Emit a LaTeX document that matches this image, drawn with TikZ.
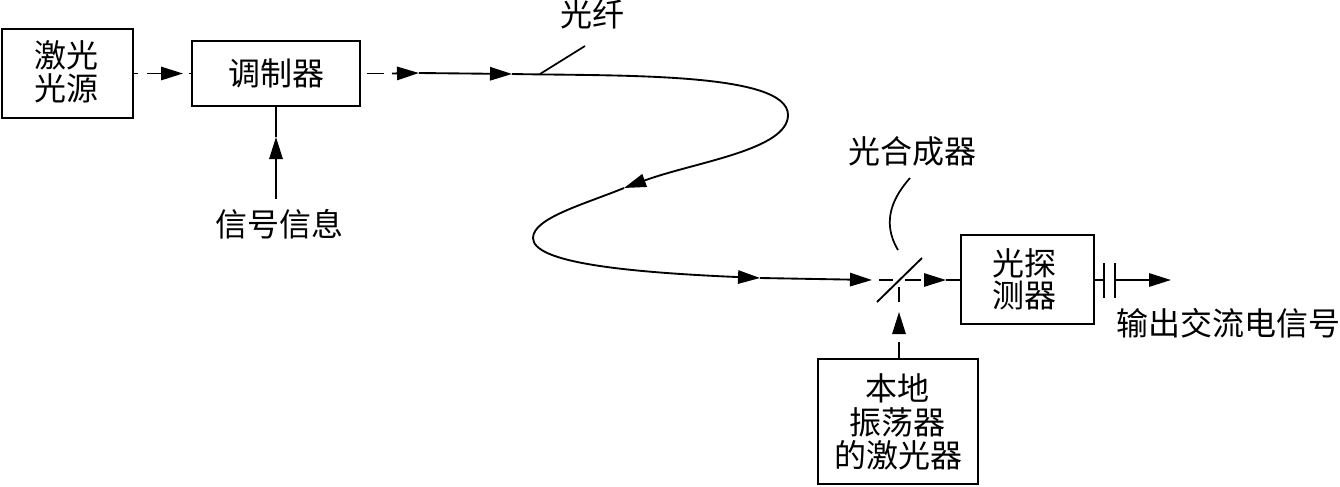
\documentclass[tikz,border=0pt]{standalone}
\usepackage{fontspec}
\setmainfont{Noto Sans CJK SC}
\usetikzlibrary{arrows.meta}
\tikzset{
  every node/.style={font=\fontsize{24}{24}\selectfont, inner sep=0pt, align=center, text=black},
  box/.style={draw=black, line width=1.8pt, fill=white},
  wire/.style={draw=black, line width=1.4pt},
  sig/.style={wire, -{Triangle[length=16.5pt,width=10pt]}},
  thin wire/.style={draw=black, line width=1.3pt},
}
\begin{document}
\begin{tikzpicture}[x=0.75pt,y=-0.75pt]
\useasboundingbox (0,0) rectangle (1340,486);
% boxes
\node[box, minimum width=98.25pt, minimum height=66.75pt] (laser) at (67.5,73.5) {};
\node at (67,55) {激光};
\node at (67,88) {光源};
\node[box, minimum width=126pt, minimum height=48.75pt] (mod) at (276,73.5) {调制器};
\node[box, minimum width=99.75pt, minimum height=66.75pt] (det) at (1027.5,279.5) {};
\node at (1024,263) {光探};
\node at (1024,296) {测器};
\node[box, minimum width=120pt, minimum height=93.75pt] (lo) at (898,421.5) {};
\node at (897,388) {本地};
\node at (897,422) {振荡器};
\node at (898,455) {的激光器};
% labels
\node (info) at (279,224) {信号信息};
\node (fiberlabel) at (592,14) {光纤};
\node (combinerlabel) at (912,151) {光合成器};
\node (outlabel) at (1228,323) {输出交流电信号};
% coordinates
\coordinate (a1) at (419,73);
\coordinate (a2) at (512,74);
\coordinate (a3) at (624,188);
\coordinate (a4) at (760,278);
\coordinate (a5) at (872,280);
\coordinate (mc) at (899,280);
\coordinate (m1) at (877,302);
\coordinate (m2) at (922,258);
\coordinate (a6) at (946,280);
\coordinate (a7) at (899,312);
\coordinate (a8) at (276,137);
\coordinate (fp) at (540,74);
\coordinate (fq) at (585,46);
\coordinate (cp) at (910,178);
\coordinate (cq) at (898,250);
\coordinate (c1) at (1104,280);
\coordinate (c2) at (1115,280);
\coordinate (outend) at (1171,280);
% laser to modulator
\draw[wire] (133,73.5) -- (138,73.5);
\draw[sig] (147,73.5) -- (183,73.5);
\draw[wire] (189,73.5) -- (mod.west);
% modulator to fibre
\draw[wire] (367,73.5) -- (384,73.5);
\draw[sig] (392,73.5) -- (a1);
\draw[sig] (a1) -- (a2);
\draw[sig] (a2) .. controls (620,76) and (788,72) .. (788,115)
  .. controls (788,150) and (695,162) .. (a3);
\draw[sig] (a3) .. controls (585,204) and (533,218) .. (533,238)
  .. controls (533,262) and (620,272) .. (a4);
\draw[sig] (a4) -- (a5);
% combiner
\draw[wire] (m1) -- (m2);
\draw[wire] (879,280) -- (893,280);
\draw[wire] (905,280) -- (921,280);
\draw[sig] (925,280) -- (a6);
\draw[wire] (a6) -- (det.west |- a6);
\draw[wire] (899,287) -- (899,302);
\draw[wire] (lo.north -| a7) -- (899,342);
\draw[sig] (899,333) -- (a7);
% signal info
\draw[sig] (276,199) -- (a8);
\draw[wire] (a8) -- (mod.south);
% pointers
\draw[thin wire] (fp) -- (fq);
\draw[thin wire] (cp) .. controls (895,195) and (880,220) .. (cq);
% capacitor and output
\draw[wire] (det.east |- c1) -- (c1);
\draw[wire] (1104,263) -- (1104,298);
\draw[wire] (1115,263) -- (1115,298);
\draw[sig] (c2) -- (outend);
\end{tikzpicture}
\end{document}
